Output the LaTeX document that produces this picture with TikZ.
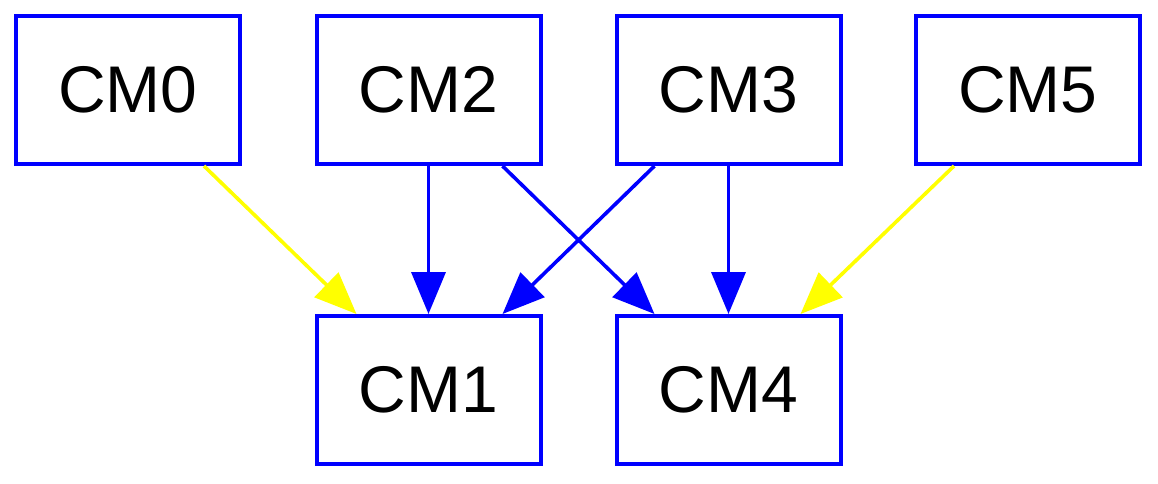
\documentclass[tikz,border=0pt]{standalone}
\usepackage{fontspec}
\setmainfont{Liberation Sans}
\usetikzlibrary{arrows.meta,calc}
\definecolor{gvblue}{RGB}{0,0,255}
\definecolor{gvyellow}{RGB}{255,255,0}
\begin{document}
\begin{tikzpicture}[x=0.5pt,y=-0.5pt,
  box/.style={draw=gvblue, line width=2pt, minimum width=112pt, minimum height=74pt, inner sep=0pt, font=\fontsize{33}{40}\selectfont},
  blueedge/.style={draw=gvblue, line width=1.8pt, -{Triangle[length=21pt,width=17pt]}, fill=gvblue},
  yellowedge/.style={draw=gvyellow, line width=1.8pt, -{Triangle[length=21pt,width=17pt]}, fill=gvyellow}]
\useasboundingbox (0,0) rectangle (1158,483);
\node[box] (CM0) at (128,90) {CM0};
\node[box] (CM2) at (428.5,90) {CM2};
\node[box] (CM3) at (728.5,90) {CM3};
\node[box] (CM5) at (1028,90) {CM5};
\node[box] (CM1) at (428.5,390) {CM1};
\node[box] (CM4) at (728.5,390) {CM4};
\draw[yellowedge] ($(CM0.south)+(38pt,0)$) -- ($(CM1.north)+(-36pt,0)$);
\draw[blueedge] (CM2.south) -- (CM1.north);
\draw[blueedge] ($(CM2.south)+(37pt,0)$) -- ($(CM4.north)+(-37pt,0)$);
\draw[blueedge] ($(CM3.south)+(-37pt,0)$) -- ($(CM1.north)+(37pt,0)$);
\draw[blueedge] (CM3.south) -- (CM4.north);
\draw[yellowedge] ($(CM5.south)+(-37pt,0)$) -- ($(CM4.north)+(36pt,0)$);
\end{tikzpicture}
\end{document}
